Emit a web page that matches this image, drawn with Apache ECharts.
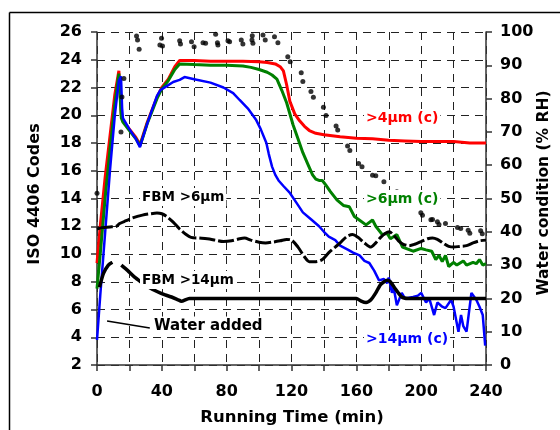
<!DOCTYPE html>
<html><head><meta charset="utf-8">
<script src="https://cdn.jsdelivr.net/npm/echarts@6/dist/echarts.min.js"></script>
<style>html,body{margin:0;padding:0;background:#fff}#c{width:560px;height:430px}</style>
</head><body><div id="c"></div>
<script>
const xTicks = [0, 40, 80, 120, 160, 200, 240];
const leftTicks = [2, 4, 6, 8, 10, 12, 14, 16, 18, 20, 22, 24, 26];
const rightTicks = [0, 10, 20, 30, 40, 50, 60, 70, 80, 90, 100];

const red4 = [[0,9.35],[2,12],[5,15.5],[8,18.5],[11,21.5],[13.5,23.2],[14.3,23.3],[15,20],[16,19.6],[20,19],[24,18.4],[26.5,17.9],[28,18.4],[31,19.5],[34,20.4],[37,21.3],[40,22],[44,22.6],[48,23.5],[51,23.95],[60,23.95],[70,23.9],[80,23.9],[90,23.9],[100,23.85],[105,23.8],[110,23.7],[113,23.5],[115,23.2],[117,22.2],[119,21],[122,20.1],[125,19.6],[128,19.2],[131,18.9],[135,18.7],[140,18.6],[150,18.45],[160,18.35],[170,18.3],[180,18.2],[190,18.15],[200,18.1],[210,18.1],[220,18.1],[230,18.0],[240,18.0]];

const green6 = [[0,7.5],[2,10],[5,14],[8,17.5],[11,20.8],[13.5,23.0],[14.3,23.1],[15,19.8],[16,19.5],[20,18.9],[24,18.3],[26.5,17.8],[28,18.3],[31,19.4],[34,20.3],[37,21.2],[40,21.9],[44,22.5],[48,23.3],[51,23.7],[60,23.65],[70,23.6],[80,23.6],[90,23.55],[95,23.45],[100,23.3],[105,23.1],[108,22.9],[111,22.6],[114,21.8],[117,20.9],[121,19.3],[124,18.3],[127,17.3],[130,16.5],[133,15.7],[135,15.4],[137,15.3],[139,15.3],[141,15.0],[144,14.5],[148,13.9],[152,13.5],[155.7,13.4],[158.8,12.7],[161.8,12.45],[166,12.1],[170,12.45],[172,12.0],[176,11.4],[179,11.5],[181,11.1],[185,11.4],[188.5,10.5],[195,10.2],[200,10.4],[203,10.3],[206.5,10.2],[209,9.6],[211,9.9],[213,9.45],[215,9.9],[217,9.1],[220,9.4],[222,9.2],[226,9.5],[228,9.2],[232,9.4],[234,9.3],[236,9.6],[238,9.2],[240,9.3]];

const blue14 = [[0,3.8],[2,7],[5,11.5],[8,16],[11,20],[13.5,22.5],[14.8,22.8],[15.5,20.5],[16,19.8],[20,19],[24,18.3],[26.5,17.7],[28,18.3],[31,19.4],[34,20.4],[37,21.4],[39,21.8],[43,22.1],[47,22.4],[51,22.55],[54,22.75],[60,22.6],[70,22.35],[78,22.0],[84,21.6],[88,21.1],[93,20.5],[98,19.7],[101,19.0],[104.5,18.0],[106,17.2],[108,16.3],[110,15.7],[112,15.3],[115,14.9],[119,14.4],[123,13.7],[127,13.0],[132,12.5],[137,12.0],[140,11.6],[143,11.25],[147,11.0],[150,10.6],[155,10.3],[158,10.1],[162,9.9],[165,9.5],[168,9.35],[171,8.8],[174,8.1],[177,8.2],[179,7.9],[180,8.3],[182,7.2],[183,7.6],[185,6.3],[188,7.2],[190,6.8],[195,6.9],[198,7.0],[200,7.2],[203,6.5],[205,6.8],[208,5.6],[210,6.5],[213,6.2],[215,6.1],[218.5,6.7],[220,6.2],[223,4.4],[224.6,5.6],[226,4.8],[228,4.4],[231,7.2],[234,6.7],[236,6.2],[238,5.6],[239.5,3.4]];

const fbm6 = [[0,11.8],[3,11.9],[8,11.95],[12,12.0],[14,12.2],[18,12.4],[22,12.6],[28,12.8],[33,12.9],[37,12.95],[40,12.9],[43,12.7],[47,12.3],[51,11.8],[55,11.4],[58,11.2],[63,11.15],[68,11.1],[73,11.0],[78,10.9],[83,10.95],[88,11.1],[91,11.15],[95,11.0],[100,10.85],[104,10.8],[108,10.85],[113,10.95],[117,11.05],[120,11.0],[124,10.5],[128,9.8],[131,9.45],[135,9.45],[139,9.6],[143,10.1],[147,10.5],[150,10.8],[154,11.25],[157.7,11.4],[161,11.2],[165,10.8],[169,10.5],[172,10.8],[175,11.2],[178,11.5],[180.3,11.6],[183,11.35],[186,10.95],[189,10.7],[192.6,10.6],[196,10.7],[200,10.9],[204,11.1],[207,11.15],[210,11.05],[214,10.75],[217,10.55],[220,10.5],[224,10.55],[228,10.6],[232,10.8],[236,10.95],[240,11.0]];

const fbm14 = [[1.5,7.6],[4,8.6],[7,9.2],[9.5,9.4],[12,null],[15,9.2],[19,8.8],[23,8.35],[27,8.0],[32,7.6],[37,7.3],[42,7.05],[46,6.9],[50,6.7],[52,6.6],[57,6.8],[80,6.8],[120,6.8],[160,6.8],[163,6.6],[166,6.5],[169,6.7],[172,7.2],[175,7.8],[179,8.1],[181,8.0],[184,7.5],[188,6.9],[192,6.8],[240,6.8]];

const waterRH = [[0,51.6],[14.8,70.0],[15.4,80.5],[16.6,86.0],[24.4,98.8],[25,97.6],[26,94.8],[38.8,96.1],[39.8,98.1],[40.4,95.8],[51,97.4],[51.5,96.4],[58.3,97.1],[59.9,95.6],[65.4,96.8],[67,96.6],[73.2,99.3],[74.3,96.8],[74.6,96.1],[80.8,97.4],[81.8,97.1],[89,97.6],[90,96.4],[95.6,97.6],[95.8,98.9],[96.2,96.6],[102.4,99.1],[103.8,97.6],[109.5,98.6],[111.6,96.8],[117.7,92.6],[119.2,91.1],[126,87.8],[127,85.1],[132,82.1],[133.5,80.4],[139.7,77.4],[141.3,74.9],[147.5,71.8],[148.5,70.6],[154.6,65.8],[156,64.4],[161.4,60.5],[163.5,59.5],[170,57.0],[172,56.8],[177,55.0],[185,52],[192,49],[199.8,45.7],[200.8,45.0],[206,43.6],[207,43.7],[210,43.0],[211,42.2],[215,42.5],[222.4,41.3],[224.4,41.0],[229,40.5],[230,39.6],[236.7,40.3],[237.7,39.4]];

const F = 'DejaVu Sans';
const chart = echarts.init(document.getElementById('c'), null, { renderer: 'canvas' });
const gridDash = () => ({ type: [8, 6], color: '#222', width: 1 });
const lbl = (text, x, y, color, size) => ({
  type: 'text', x: x, y: y, z: 100,
  style: { text: text, fill: color, font: 'bold ' + size + 'px "' + F + '"', textAlign: 'left', textVerticalAlign: 'middle', backgroundColor: '#fff', padding: [2, 2] }
});
chart.setOption({
  animation: false,
  grid: { left: 97, right: 74, top: 32, bottom: 65 },
  xAxis: {
    type: 'value', min: xTicks[0], max: xTicks[xTicks.length - 1], interval: 20,
    axisLine: { show: true, lineStyle: { color: '#333', width: 1.5 } },
    axisTick: { show: true, length: 6, lineStyle: { color: '#333', width: 1.5 } },
    axisLabel: { fontFamily: F, fontWeight: 'bold', fontSize: 16, color: '#000', margin: 19,
      formatter: v => (xTicks.indexOf(v) >= 0 ? String(v) : '') },
    splitLine: { show: true, lineStyle: gridDash() }
  },
  yAxis: [{
    type: 'value', position: 'left', min: leftTicks[0], max: leftTicks[leftTicks.length - 1], interval: 2,
    axisLine: { show: true, lineStyle: { color: '#333', width: 1.5 } },
    axisTick: { show: true, length: 6, lineStyle: { color: '#333', width: 1.5 } },
    axisLabel: { fontFamily: F, fontWeight: 'bold', fontSize: 16, color: '#000', margin: 15 },
    splitLine: { show: true, lineStyle: gridDash() }
  }, {
    type: 'value', position: 'right', min: rightTicks[0], max: rightTicks[rightTicks.length - 1], interval: 10,
    axisLine: { show: true, lineStyle: { color: '#333', width: 1.5 } },
    axisTick: { show: true, length: 6, lineStyle: { color: '#333', width: 1.5 } },
    axisLabel: { fontFamily: F, fontWeight: 'bold', fontSize: 16, color: '#000', margin: 14 },
    splitLine: { show: false }
  }],
  series: [
    { type: 'line', data: red4, showSymbol: false, lineStyle: { color: '#ff0000', width: 3 }, z: 3 },
    { type: 'line', data: green6, showSymbol: false, lineStyle: { color: '#008000', width: 3 }, z: 4 },
    { type: 'line', data: blue14, showSymbol: false, lineStyle: { color: '#0000ff', width: 2.5 }, z: 5 },
    { type: 'line', data: fbm6, showSymbol: false, smooth: 0.3, lineStyle: { color: '#000', width: 3, type: [16, 3] }, z: 6 },
    { type: 'line', data: fbm14, showSymbol: false, smooth: 0.2, connectNulls: false, lineStyle: { color: '#000', width: 3.5 }, z: 6 },
    { type: 'scatter', yAxisIndex: 1, data: waterRH, symbol: 'circle', symbolSize: 5, itemStyle: { color: '#000' }, z: 7 },
    { type: 'line', data: [], markLine: { silent: true, symbol: ['none', 'arrow'], symbolSize: [0, 9], label: { show: false },
        lineStyle: { color: '#000', width: 1.5, type: 'solid' },
        data: [[{ coord: [32.6, 4.67] }, { coord: [6.2, 5.17] }]] } }
  ],
  graphic: [
    { type: 'line', silent: true, shape: { x1: 9.5, y1: 12.5, x2: 9.5, y2: 440 }, style: { stroke: '#000', lineWidth: 1.5 } },
    { type: 'line', silent: true, shape: { x1: 9.5, y1: 12.5, x2: 570, y2: 12.5 }, style: { stroke: '#000', lineWidth: 1.5 } },
    { type: 'text', x: 35, y: 194, rotation: Math.PI / 2, z: 100,
      style: { text: 'ISO 4406 Codes', fill: '#000', font: 'bold 16px "' + F + '"', textAlign: 'center', textVerticalAlign: 'middle' } },
    { type: 'text', x: 544, y: 193, rotation: Math.PI / 2, z: 100,
      style: { text: 'Water condition (% RH)', fill: '#000', font: 'bold 15.5px "' + F + '"', textAlign: 'center', textVerticalAlign: 'middle' } },
    { type: 'text', x: 292, y: 418, z: 100,
      style: { text: 'Running Time (min)', fill: '#000', font: 'bold 16.5px "' + F + '"', textAlign: 'center', textVerticalAlign: 'middle' } },
    lbl('>4µm (c)', 364, 118, '#ff0000', 14),
    lbl('>6µm (c)', 364, 199, '#008000', 14),
    lbl('>14µm (c)', 364, 339, '#0000ff', 14),
    lbl('FBM >6µm', 140, 197, '#000', 13.5),
    lbl('FBM >14µm', 140, 280, '#000', 13.5),
    lbl('Water added', 152, 326, '#000', 15)
  ]
});
</script></body></html>
